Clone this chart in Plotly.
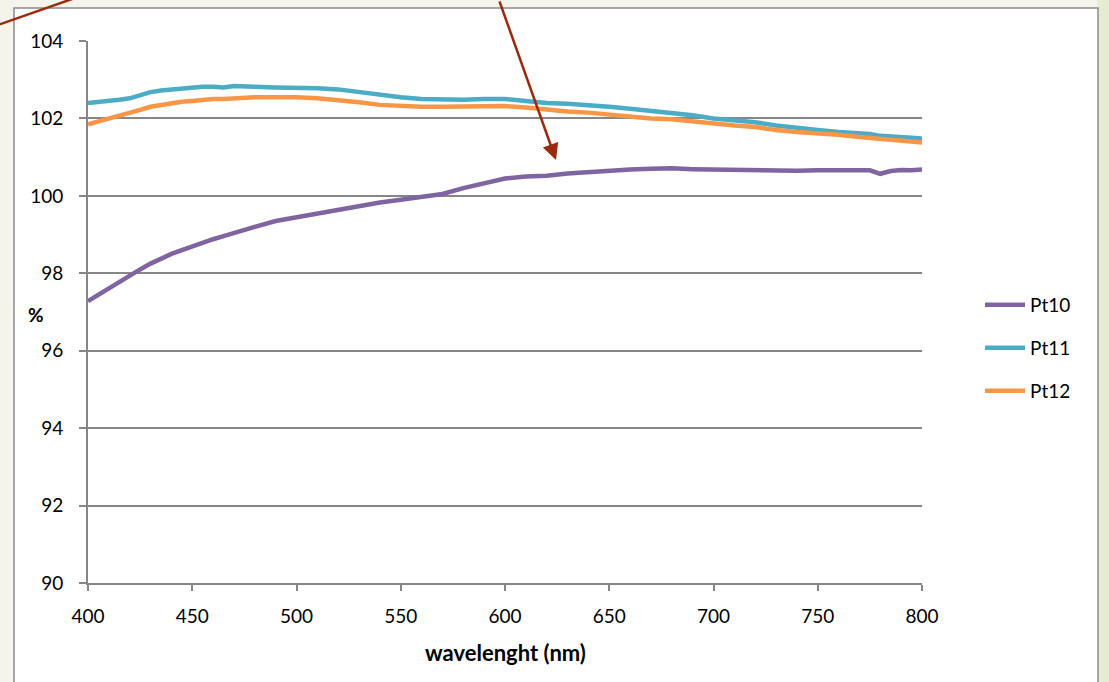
import plotly.graph_objects as go

wl = [400, 405, 410, 415, 420, 425, 430, 435, 440, 445, 450, 455, 460, 465, 470, 475, 480,
      490, 500, 510, 520, 530, 540, 550, 560, 570, 580, 590, 600, 610, 620, 630, 640, 650,
      660, 670, 680, 690, 700, 710, 720, 730, 740, 750, 760, 770, 775, 780, 785, 790, 795, 800]

pt10 = [97.28, 97.45, 97.62, 97.78, 97.95, 98.10, 98.25, 98.38, 98.50, 98.60, 98.70, 98.78,
        98.88, 98.96, 99.05, 99.12, 99.20, 99.35, 99.45, 99.55, 99.65, 99.75, 99.83, 99.90,
        99.97, 100.05, 100.20, 100.32, 100.45, 100.50, 100.52, 100.58, 100.62, 100.66,
        100.68, 100.70, 100.71, 100.69, 100.68, 100.68, 100.67, 100.66, 100.65, 100.66,
        100.65, 100.64, 100.66, 100.57, 100.64, 100.67, 100.66, 100.68]

pt11 = [102.40, 102.42, 102.45, 102.48, 102.52, 102.60, 102.68, 102.72, 102.75, 102.78,
        102.80, 102.82, 102.82, 102.80, 102.84, 102.82, 102.82, 102.80, 102.80, 102.78,
        102.75, 102.68, 102.62, 102.55, 102.50, 102.48, 102.48, 102.50, 102.50, 102.45,
        102.40, 102.38, 102.35, 102.30, 102.25, 102.20, 102.15, 102.08, 102.00, 101.95,
        101.90, 101.82, 101.75, 101.70, 101.65, 101.62, 101.60, 101.55, 101.54, 101.52,
        101.50, 101.48]

pt12 = [101.85, 101.92, 102.00, 102.06, 102.15, 102.22, 102.30, 102.35, 102.40, 102.43,
        102.45, 102.48, 102.50, 102.50, 102.52, 102.53, 102.55, 102.55, 102.55, 102.52,
        102.48, 102.42, 102.35, 102.32, 102.30, 102.30, 102.30, 102.32, 102.32, 102.28,
        102.22, 102.18, 102.15, 102.10, 102.05, 102.00, 101.98, 101.92, 101.88, 101.82,
        101.78, 101.70, 101.65, 101.62, 101.58, 101.52, 101.50, 101.48, 101.45, 101.42,
        101.40, 101.38]

x_ticks = [400, 450, 500, 550, 600, 650, 700, 750, 800]
y_ticks = [90, 92, 94, 96, 98, 100, 102, 104]

W, H = 1109, 682
L, R, T, B = 88, 187, 41, 99
pw, ph = W - L - R, H - T - B

def px(x):
    return (x - L) / pw

def py(y):
    return (H - B - y) / ph

FONT = "Lato"
fig = go.Figure()
series = [("Pt10", pt10, "#8064a2", "legend"),
          ("Pt11", pt11, "#4bacc6", "legend2"),
          ("Pt12", pt12, "#f79646", "legend3")]
for name, vals, col, lg in series:
    fig.add_trace(go.Scatter(x=wl, y=vals, name=name, mode="lines",
                             line=dict(color=col, width=4.5), legend=lg))

leg_common = dict(bgcolor="rgba(0,0,0,0)", font=dict(family=FONT, size=19, color="#000"),
                  xanchor="left", yanchor="middle", itemwidth=40)
fig.update_layout(
    width=W, height=H,
    margin=dict(l=L, r=R, t=T, b=B),
    paper_bgcolor="#f4f4ea",
    plot_bgcolor="white",
    showlegend=True,
    legend=dict(x=px(980), y=py(305), **leg_common),
    legend2=dict(x=px(980), y=py(348), **leg_common),
    legend3=dict(x=px(980), y=py(391), **leg_common),
    xaxis=dict(range=[400, 800], tickvals=x_ticks, showgrid=False, zeroline=False,
               showline=True, linecolor="#868686", linewidth=2,
               ticks="outside", ticklen=6, tickcolor="#868686", tickwidth=2,
               ticklabelstandoff=9,
               tickfont=dict(family=FONT, size=19, color="#000")),
    yaxis=dict(range=[90, 104], tickvals=y_ticks, showgrid=True, gridcolor="#868686",
               gridwidth=1.5, zeroline=False, showline=True, linecolor="#868686",
               linewidth=2, ticks="outside", ticklen=7, tickcolor="#868686", tickwidth=2,
               ticklabelstandoff=12,
               tickfont=dict(family=FONT, size=19, color="#000")),
    shapes=[
        dict(type="rect", xref="paper", yref="paper", x0=px(1097), x1=px(1115),
             y0=py(700), y1=py(-10), fillcolor="#e6ecd2", line=dict(width=0),
             layer="below"),
        dict(type="rect", xref="paper", yref="paper", x0=px(14), x1=px(1098),
             y0=py(700), y1=py(8), fillcolor="white", line=dict(color="#8a8a8a", width=1.5),
             layer="below"),
        dict(type="line", xref="paper", yref="paper", x0=px(-2), y0=py(25),
             x1=px(75), y1=py(-2), line=dict(color="#9c2a10", width=2.5)),
    ],
    annotations=[
        dict(xref="paper", yref="paper", x=px(505), y=py(652), xanchor="center",
             yanchor="middle", text="<b>wavelenght (nm)</b>",
             showarrow=False, font=dict(family=FONT, size=22, color="#000")),
        dict(xref="paper", yref="paper", x=px(36), y=py(314), xanchor="center",
             yanchor="middle", text="<b>%</b>",
             showarrow=False, font=dict(family=FONT, size=19, color="#000")),
        dict(xref="paper", yref="paper", x=px(556), y=py(160), text="", showarrow=True,
             axref="pixel", ayref="pixel", ax=-57, ay=-165, arrowhead=2, arrowsize=1.3,
             arrowwidth=2.5, arrowcolor="#9c2a10"),
    ],
)

fig.write_html("out.html", config={"displayModeBar": False},
               post_script="document.body.style.margin='0';")
